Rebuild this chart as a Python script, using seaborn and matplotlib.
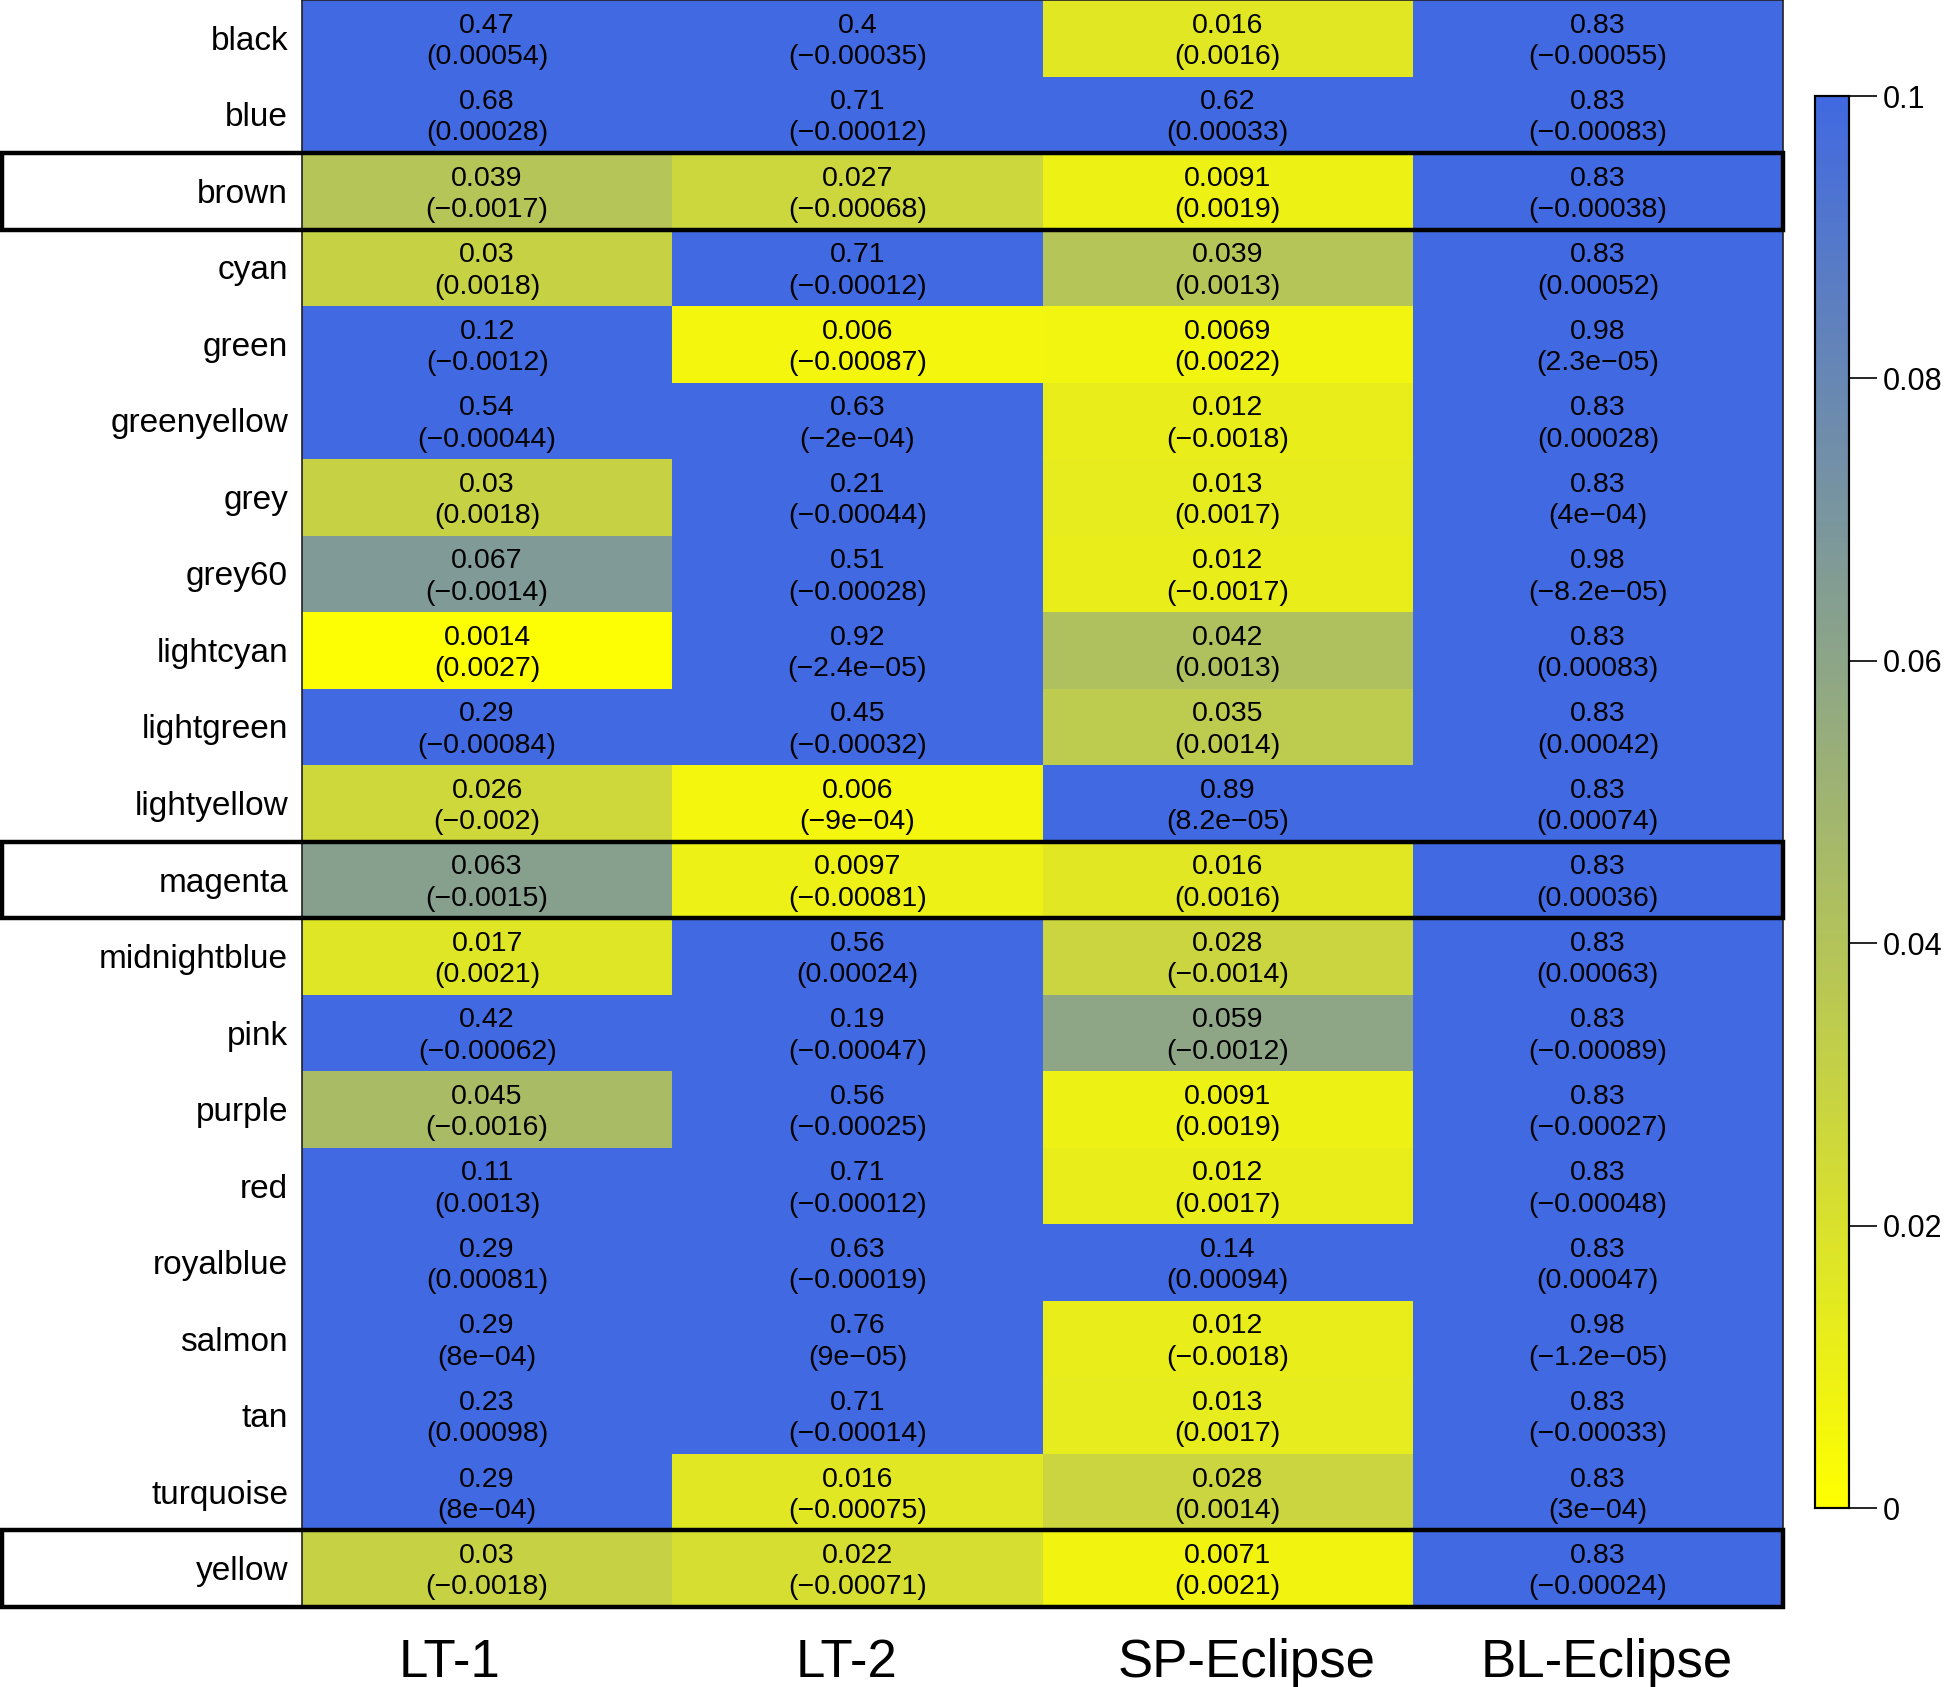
import numpy as np
import pandas as pd
import seaborn as sns
import matplotlib
matplotlib.use("Agg")
import matplotlib.pyplot as plt
from matplotlib.colors import LinearSegmentedColormap
from matplotlib.patches import Rectangle
from matplotlib import transforms

modules = ["black", "blue", "brown", "cyan", "green", "greenyellow", "grey", "grey60",
           "lightcyan", "lightgreen", "lightyellow", "magenta", "midnightblue", "pink",
           "purple", "red", "royalblue", "salmon", "tan", "turquoise", "yellow"]
traits = ["LT-1", "LT-2", "SP-Eclipse", "BL-Eclipse"]

p_lt1 = [0.47, 0.68, 0.039, 0.03, 0.12, 0.54, 0.03, 0.067, 0.0014, 0.29, 0.026, 0.063,
         0.017, 0.42, 0.045, 0.11, 0.29, 0.29, 0.23, 0.29, 0.03]
c_lt1 = [0.00054, 0.00028, -0.0017, 0.0018, -0.0012, -0.00044, 0.0018, -0.0014, 0.0027,
         -0.00084, -0.002, -0.0015, 0.0021, -0.00062, -0.0016, 0.0013, 0.00081, 8e-04,
         0.00098, 8e-04, -0.0018]
p_lt2 = [0.4, 0.71, 0.027, 0.71, 0.006, 0.63, 0.21, 0.51, 0.92, 0.45, 0.006, 0.0097,
         0.56, 0.19, 0.56, 0.71, 0.63, 0.76, 0.71, 0.016, 0.022]
c_lt2 = [-0.00035, -0.00012, -0.00068, -0.00012, -0.00087, -2e-04, -0.00044, -0.00028,
         -2.4e-05, -0.00032, -9e-04, -0.00081, 0.00024, -0.00047, -0.00025, -0.00012,
         -0.00019, 9e-05, -0.00014, -0.00075, -0.00071]
p_sp = [0.016, 0.62, 0.0091, 0.039, 0.0069, 0.012, 0.013, 0.012, 0.042, 0.035, 0.89,
        0.016, 0.028, 0.059, 0.0091, 0.012, 0.14, 0.012, 0.013, 0.028, 0.0071]
c_sp = [0.0016, 0.00033, 0.0019, 0.0013, 0.0022, -0.0018, 0.0017, -0.0017, 0.0013, 0.0014,
        8.2e-05, 0.0016, -0.0014, -0.0012, 0.0019, 0.0017, 0.00094, -0.0018, 0.0017,
        0.0014, 0.0021]
p_bl = [0.83, 0.83, 0.83, 0.83, 0.98, 0.83, 0.83, 0.98, 0.83, 0.83, 0.83, 0.83, 0.83,
        0.83, 0.83, 0.83, 0.83, 0.98, 0.83, 0.83, 0.83]
c_bl = [-0.00055, -0.00083, -0.00038, 0.00052, 2.3e-05, 0.00028, 4e-04, -8.2e-05, 0.00083,
        0.00042, 0.00074, 0.00036, 0.00063, -0.00089, -0.00027, -0.00048, 0.00047,
        -1.2e-05, -0.00033, 3e-04, -0.00024]

highlighted = ["brown", "magenta", "yellow"]
cbar_ticks = [0, 0.02, 0.04, 0.06, 0.08, 0.1]
cbar_ticklabels = ["0", "0.02", "0.04", "0.06", "0.08", "0.1"]

FONT = "Liberation Sans"


def rfmt(v):
    """R-like number formatting: choose the shorter of fixed and scientific."""
    neg = v < 0
    a = abs(v)
    fixed = np.format_float_positional(a, trim='-')
    m, e = f"{a:e}".split("e")
    m = np.format_float_positional(float(m), precision=6, trim='-')
    exp = int(e)
    sci = f"{m}e{'-' if exp < 0 else '+'}{abs(exp):02d}"
    s = sci if len(sci) < len(fixed) else fixed
    s = s.replace("-", "\u2212")
    return ("\u2212" if neg else "") + s


pvals = pd.DataFrame({traits[0]: p_lt1, traits[1]: p_lt2, traits[2]: p_sp, traits[3]: p_bl},
                     index=modules)
coefs = pd.DataFrame({traits[0]: c_lt1, traits[1]: c_lt2, traits[2]: c_sp, traits[3]: c_bl},
                     index=modules)
labels = np.empty(pvals.shape, dtype=object)
for i in range(pvals.shape[0]):
    for j in range(pvals.shape[1]):
        labels[i, j] = f"{rfmt(pvals.iat[i, j])}\n({rfmt(coefs.iat[i, j])})"

cmap = LinearSegmentedColormap.from_list("yb", ["#FFFF00", "#4169E1"])

W, H = 1946, 1687
fig = plt.figure(figsize=(W / 100, H / 100), dpi=100)
ax = fig.add_axes([302 / W, 1 - 1607 / H, 1481 / W, 1607 / H])
cax = fig.add_axes([1815 / W, 1 - 1508 / H, 34 / W, (1508 - 96) / H])

sns.heatmap(pvals, ax=ax, cbar_ax=cax, cmap=cmap, vmin=0, vmax=0.1,
            annot=labels, fmt="",
            annot_kws={"fontsize": 20.5, "family": FONT, "color": "black",
                       "linespacing": 1.27},
            cbar_kws={"ticks": cbar_ticks})

down = transforms.ScaledTranslation(0, -3 / 100, fig.dpi_scale_trans)
for t in ax.texts:
    t.set_transform(t.get_transform() + down)

ax.set_xlabel("")
ax.set_ylabel("")
ax.set_yticklabels(modules, rotation=0, fontsize=24, family=FONT)
ax.set_xticklabels(traits, rotation=0, fontsize=38, family=FONT)
ax.tick_params(axis="y", length=0, pad=10)
ax.tick_params(axis="x", length=0, pad=22)
for lab in ax.get_yticklabels():
    lab.set_transform(lab.get_transform() + down)
for sp in ax.spines.values():
    sp.set_visible(True)
    sp.set_linewidth(1.2)
    sp.set_color("#222222")

# small horizontal shifts of the column labels (pixels) as in the reference
label_shift = [-38, -11, 19, 9]
for lab, dx in zip(ax.get_xticklabels(), label_shift):
    lab.set_transform(lab.get_transform() +
                      transforms.ScaledTranslation(dx / 100, 0, fig.dpi_scale_trans))

# highlight boxes spanning label + heatmap
trans = transforms.blended_transform_factory(fig.transFigure, ax.transData)
for name in highlighted:
    r = modules.index(name)
    ax.add_patch(Rectangle((2 / W, r), (1783 - 2) / W, 1, transform=trans,
                           fill=False, edgecolor="black", linewidth=3.2,
                           clip_on=False, zorder=10))

cax.set_yticks(cbar_ticks)
cax.set_yticklabels(cbar_ticklabels, fontsize=22, family=FONT)
cax.tick_params(axis="y", length=20, width=1.2, pad=4, color="black")
for sp in cax.spines.values():
    sp.set_visible(True)
    sp.set_linewidth(1.5)
    sp.set_color("black")

fig.savefig("out.png", dpi=100)
